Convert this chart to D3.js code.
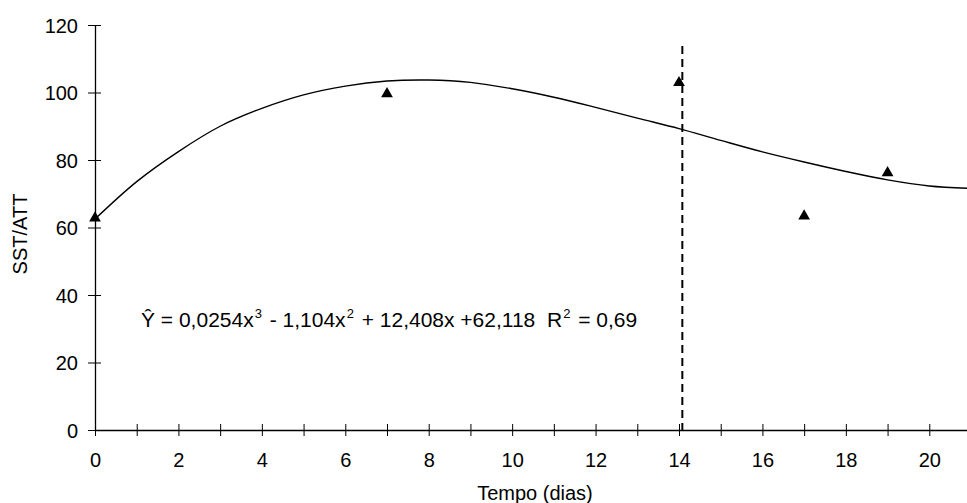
<!DOCTYPE html>
<html>
<head>
<meta charset="utf-8">
<script src="https://cdn.jsdelivr.net/npm/d3@7"></script>
<style>
  body { margin: 0; background: #fff; }
  svg { display: block; }
  text { font-family: "Liberation Sans", Arial, sans-serif; fill: #000; }
</style>
</head>
<body>
<div id="chart"></div>
<script>
//observed points (tempo em dias, SST/ATT)
var obsDays = [0, 7, 14, 17, 19];
var obsValues = [62.8, 99.6, 102.9, 63.4, 76.2];

//fitted curve
var fitDays = [0, 1, 2, 3, 4, 5, 6, 7, 8, 9, 10, 11, 12, 13, 14, 15, 16, 17, 18, 19, 20, 21];
var fitValues = [62.5, 73.6, 82.5, 90.0, 95.3, 99.3, 101.9, 103.4, 103.7, 103.0, 101.1, 98.6, 95.6, 92.4, 89.3, 85.8, 82.4, 79.4, 76.6, 74.1, 72.3, 71.6];

//vertical reference line
var cutDay = 14.08;
var cutTop = 113.8;

var yTicks = [0, 20, 40, 60, 80, 100, 120];
var xLabelDays = [0, 2, 4, 6, 8, 10, 12, 14, 16, 18, 20];

var svgWidth = 967;
var svgHeight = 503;

var svg = d3.select("#chart").append("svg")
    .attr("width", svgWidth)
    .attr("height", svgHeight);

//scales
var x = d3.scaleLinear().domain([0, 21]).range([95, 971]);
var y = d3.scaleLinear().domain([0, 120]).range([430, 25]);

var fontSize = 20;

//x axis
var xAxis = svg.append("g")
    .attr("transform", `translate(0, ${y(0)})`)
    .call(d3.axisBottom(x)
        .tickValues(d3.range(0, 22))
        .tickSizeOuter(0)
        .tickPadding(0)
        .tickFormat(d => xLabelDays.indexOf(d) >= 0 ? d : ""));
xAxis.select(".domain").attr("stroke", "#000").attr("stroke-width", 1.3);
xAxis.selectAll(".tick line").attr("y1", -6).attr("y2", 6).attr("stroke", "#000");
xAxis.selectAll(".tick text")
    .attr("y", 37)
    .attr("dy", 0)
    .style("font-size", fontSize + "px")
    .style("font-family", "'Liberation Sans', Arial, sans-serif");

//y axis
var yAxis = svg.append("g")
    .attr("transform", `translate(${x(0)}, 0)`)
    .call(d3.axisLeft(y)
        .tickValues(yTicks)
        .tickSizeOuter(0)
        .tickPadding(0));
yAxis.select(".domain").attr("stroke", "#000").attr("stroke-width", 1.3);
yAxis.selectAll(".tick line").attr("x1", -7).attr("x2", 6).attr("stroke", "#000");
yAxis.selectAll(".tick text")
    .attr("x", -17)
    .attr("dy", "0.35em")
    .style("font-size", fontSize + "px")
    .style("font-family", "'Liberation Sans', Arial, sans-serif");

//axis titles
svg.append("text")
    .attr("x", 535)
    .attr("y", 500)
    .attr("text-anchor", "middle")
    .style("font-size", fontSize + "px")
    .text("Tempo (dias)");

svg.append("text")
    .attr("transform", "translate(27, 234) rotate(-90)")
    .attr("text-anchor", "middle")
    .style("font-size", fontSize + "px")
    .text("SST/ATT");

//dashed line
svg.append("line")
    .attr("x1", x(cutDay))
    .attr("x2", x(cutDay))
    .attr("y1", y(cutTop))
    .attr("y2", y(0))
    .attr("stroke", "#000")
    .attr("stroke-width", 2)
    .attr("stroke-dasharray", "8,5");

//fitted curve
var fitData = fitDays.map((d, i) => [d, fitValues[i]]);
var line = d3.line()
    .x(d => x(d[0]))
    .y(d => y(d[1]))
    .curve(d3.curveCatmullRom);

svg.append("path")
    .datum(fitData)
    .attr("d", line)
    .attr("fill", "none")
    .attr("stroke", "#000")
    .attr("stroke-width", 1.4);

//observed points
var obsData = obsDays.map((d, i) => [d, obsValues[i]]);
svg.selectAll(".pt")
    .data(obsData)
    .enter()
    .append("path")
    .attr("class", "pt")
    .attr("transform", d => `translate(${x(d[0])}, ${y(d[1])})`)
    .attr("d", d3.symbol().type(d3.symbolTriangle).size(60))
    .attr("fill", "#000");

//equation, flowing text with superscripts
var eqParts = [
    {t: "Ŷ = 0,0254x", sup: false},
    {t: "3", sup: true},
    {t: " - 1,104x", sup: false},
    {t: "2", sup: true},
    {t: " + 12,408x +62,118  R", sup: false},
    {t: "2", sup: true},
    {t: " = 0,69", sup: false}
];
var eq = svg.append("text")
    .attr("x", 141)
    .attr("y", 327)
    .style("white-space", "pre")
    .style("font-size", "21px");
eq.selectAll("tspan")
    .data(eqParts)
    .enter()
    .append("tspan")
    .attr("dx", (d, i) => d.sup ? 1 : (i > 0 ? 2 : 0))
    .attr("dy", (d, i) => d.sup ? -9 : (i > 0 ? 9 : 0))
    .style("font-size", d => d.sup ? "13px" : "21px")
    .text(d => d.t);
</script>
</body>
</html>
